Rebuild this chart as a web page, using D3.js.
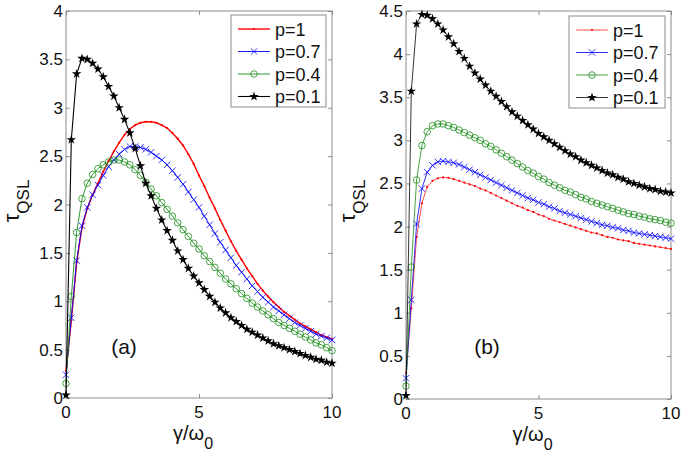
<!DOCTYPE html>
<html><head><meta charset="utf-8">
<script src="https://cdn.jsdelivr.net/npm/d3@7"></script>
<style>
body{margin:0;background:#fff}
svg{display:block}
text{font-family:"Liberation Sans",Arial,Helvetica,sans-serif;fill:#111}
</style>
</head><body>
<svg id="chart" width="685" height="458"></svg>
<script>
// ---- data ----
const gamma = [0,0.2,0.4,0.6,0.8,1,1.2,1.4,1.6,1.8,2,2.2,2.4,2.6,2.8,3,3.2,3.4,3.6,3.8,4,4.2,4.4,4.6,4.8,5,5.2,5.4,5.6,5.8,6,6.2,6.4,6.6,6.8,7,7.2,7.4,7.6,7.8,8,8.2,8.4,8.6,8.8,9,9.2,9.4,9.6,9.8,10];

const seriesNames = ["p=1","p=0.7","p=0.4","p=0.1"];

const panelA_p1  = [0.28,0.8,1.4,1.76,1.96,2.1,2.22,2.34,2.45,2.55,2.64,2.72,2.78,2.82,2.845,2.855,2.855,2.845,2.82,2.79,2.74,2.68,2.61,2.52,2.42,2.3,2.19,2.07,1.96,1.84,1.73,1.62,1.52,1.43,1.34,1.26,1.18,1.11,1.05,0.99,0.94,0.89,0.85,0.81,0.77,0.74,0.71,0.68,0.65,0.63,0.61];
const panelA_p07 = [0.24,0.83,1.42,1.78,1.97,2.1,2.2,2.3,2.39,2.46,2.52,2.57,2.6,2.6,2.59,2.57,2.54,2.5,2.46,2.41,2.35,2.28,2.21,2.13,2.05,1.97,1.88,1.79,1.7,1.61,1.53,1.45,1.37,1.3,1.23,1.16,1.1,1.04,0.99,0.94,0.9,0.86,0.82,0.78,0.75,0.72,0.69,0.66,0.64,0.62,0.6];
const panelA_p04 = [0.15,1.05,1.71,2.06,2.22,2.31,2.37,2.41,2.44,2.46,2.46,2.44,2.41,2.36,2.3,2.23,2.16,2.09,2.02,1.95,1.88,1.81,1.74,1.67,1.6,1.54,1.47,1.41,1.35,1.29,1.23,1.18,1.13,1.08,1.03,0.98,0.94,0.9,0.86,0.82,0.78,0.75,0.72,0.69,0.66,0.63,0.6,0.57,0.55,0.52,0.49];
const panelA_p01 = [0.03,2.67,3.35,3.51,3.5,3.46,3.4,3.32,3.22,3.12,3.0,2.88,2.74,2.58,2.4,2.22,2.09,1.96,1.84,1.73,1.63,1.52,1.43,1.34,1.26,1.19,1.12,1.05,0.99,0.93,0.88,0.83,0.79,0.75,0.71,0.68,0.65,0.62,0.59,0.56,0.54,0.52,0.5,0.48,0.46,0.44,0.42,0.4,0.39,0.37,0.36];

const panelB_p1  = [0.3,1.05,1.88,2.27,2.46,2.53,2.56,2.57,2.565,2.55,2.53,2.51,2.49,2.47,2.44,2.42,2.39,2.36,2.33,2.3,2.27,2.24,2.22,2.19,2.17,2.14,2.12,2.09,2.07,2.05,2.03,2.01,1.99,1.97,1.95,1.93,1.92,1.9,1.88,1.87,1.85,1.84,1.83,1.81,1.8,1.79,1.78,1.77,1.76,1.75,1.74];
const panelB_p07 = [0.24,1.15,2.03,2.44,2.63,2.71,2.75,2.76,2.75,2.74,2.72,2.69,2.66,2.63,2.6,2.57,2.54,2.51,2.48,2.45,2.42,2.39,2.36,2.33,2.31,2.28,2.26,2.23,2.21,2.18,2.16,2.14,2.12,2.1,2.08,2.06,2.04,2.02,2.01,1.99,1.98,1.96,1.95,1.93,1.92,1.91,1.9,1.89,1.88,1.87,1.86];
const panelB_p04 = [0.15,1.53,2.54,2.94,3.1,3.17,3.19,3.19,3.17,3.15,3.12,3.09,3.06,3.03,3.0,2.96,2.93,2.89,2.85,2.81,2.77,2.73,2.69,2.65,2.62,2.58,2.55,2.51,2.48,2.45,2.42,2.4,2.37,2.34,2.32,2.29,2.27,2.25,2.23,2.21,2.19,2.17,2.15,2.14,2.12,2.11,2.09,2.08,2.07,2.05,2.04];
const panelB_p01 = [0.04,3.57,4.35,4.46,4.45,4.41,4.35,4.28,4.2,4.12,4.03,3.95,3.86,3.78,3.71,3.64,3.57,3.51,3.45,3.39,3.33,3.28,3.23,3.18,3.13,3.08,3.04,3.0,2.96,2.92,2.88,2.84,2.81,2.77,2.74,2.71,2.68,2.65,2.62,2.6,2.57,2.55,2.52,2.5,2.48,2.46,2.44,2.43,2.41,2.4,2.39];

const xTicks = [0,5,10];
const panelA_yTicks = [0,0.5,1,1.5,2,2.5,3,3.5,4];
const panelB_yTicks = [0,0.5,1,1.5,2,2.5,3,3.5,4,4.5];
const panelLabels = ["(a)","(b)"];

// ---- drawing ----
const svg = d3.select("#chart");
const colors = ["#ff0000","#0000ff","#1a8c1a","#000000"];
const markers = ["dot","x","circle","star"];
const starPath = d3.symbol(d3.symbolStar, 28)();

function drawMarker(g, type, cx, cy, color, dotR) {
  if (type === "dot") {
    g.append("circle").attr("cx", cx).attr("cy", cy).attr("r", dotR).attr("fill", color);
  } else if (type === "x") {
    const s = 3.2;
    g.append("path").attr("d", `M${cx-s},${cy-s}L${cx+s},${cy+s}M${cx-s},${cy+s}L${cx+s},${cy-s}`)
      .attr("stroke", color).attr("stroke-width", 0.8).attr("fill", "none");
  } else if (type === "circle") {
    g.append("circle").attr("cx", cx).attr("cy", cy).attr("r", 3.3)
      .attr("fill", "none").attr("stroke", color).attr("stroke-width", 0.8);
  } else {
    g.append("path").attr("d", starPath).attr("transform", `translate(${cx},${cy})`).attr("fill", color);
  }
}

function drawPanel(cfg) {
  const x = d3.scaleLinear().domain([0, 10]).range([cfg.left, cfg.right]);
  const y = d3.scaleLinear().domain([0, cfg.yMax]).range([cfg.bottom, cfg.top]);
  const g = svg.append("g");
  const axisColor = "#8c8c8c";

  // box
  g.append("rect").attr("x", cfg.left).attr("y", cfg.top)
    .attr("width", cfg.right - cfg.left).attr("height", cfg.bottom - cfg.top)
    .attr("fill", "none").attr("stroke", axisColor).attr("stroke-width", 1);

  // axes with inward ticks on all four sides
  const tl = 4;
  const clean = a => { a.select(".domain").remove(); a.selectAll("line").attr("stroke", axisColor); };
  g.append("g").attr("transform", `translate(0,${cfg.bottom})`)
    .call(d3.axisBottom(x).tickValues(xTicks).tickSizeInner(-tl).tickSizeOuter(0).tickFormat("")).call(clean);
  g.append("g").attr("transform", `translate(0,${cfg.top})`)
    .call(d3.axisTop(x).tickValues(xTicks).tickSizeInner(-tl).tickSizeOuter(0).tickFormat("")).call(clean);
  g.append("g").attr("transform", `translate(${cfg.left},0)`)
    .call(d3.axisLeft(y).tickValues(cfg.yTicks).tickSizeInner(-tl).tickSizeOuter(0).tickFormat("")).call(clean);
  g.append("g").attr("transform", `translate(${cfg.right},0)`)
    .call(d3.axisRight(y).tickValues(cfg.yTicks).tickSizeInner(-tl).tickSizeOuter(0).tickFormat("")).call(clean);

  // tick labels
  g.selectAll(".xl").data(xTicks).enter().append("text")
    .attr("x", d => x(d)).attr("y", cfg.bottom + 20).attr("text-anchor", "middle")
    .attr("font-size", 17).text(d => d);
  g.selectAll(".yl").data(cfg.yTicks).enter().append("text")
    .attr("x", cfg.left - 3).attr("y", d => y(d) + 6).attr("text-anchor", "end")
    .attr("font-size", 17).text(d => d);

  // x label
  const xl = g.append("text").attr("x", (cfg.left + cfg.right) / 2 - 6).attr("y", cfg.bottom + 42)
    .attr("text-anchor", "middle").attr("font-size", 20);
  xl.append("tspan").text("γ/ω");
  xl.append("tspan").attr("dy", 9).attr("font-size", 16).text("0");

  // y label
  const yl = g.append("text").attr("transform", `translate(${cfg.yLabelX},${cfg.yLabelY}) rotate(-90)`)
    .attr("text-anchor", "middle").attr("font-size", 22);
  yl.append("tspan").text("τ");
  yl.append("tspan").attr("dy", 10).attr("font-size", 17).text("QSL");

  // panel label
  g.append("text").attr("x", cfg.labelX).attr("y", 354).attr("text-anchor", "middle")
    .attr("font-size", 21).text(cfg.label);

  // series
  const line = d3.line().x((d, i) => x(gamma[i])).y(d => y(d));
  cfg.series.forEach((vals, k) => {
    g.append("path").datum(vals).attr("d", line).attr("fill", "none")
      .attr("stroke", colors[k]).attr("stroke-width", cfg.lineW[k]);
    const mg = g.append("g");
    vals.forEach((v, i) => drawMarker(mg, markers[k], x(gamma[i]), y(v), colors[k], cfg.dotR));
  });

  // legend
  const lg = g.append("g");
  lg.append("rect").attr("x", cfg.legX).attr("y", cfg.legY).attr("width", cfg.legW).attr("height", 92)
    .attr("fill", "#fff").attr("stroke", axisColor).attr("stroke-width", 1);
  seriesNames.forEach((nm, k) => {
    const cy = cfg.legY + 14 + k * 22.5;
    const x0 = cfg.legX + 7, x1 = cfg.legX + 39;
    lg.append("line").attr("x1", x0).attr("x2", x1).attr("y1", cy).attr("y2", cy)
      .attr("stroke", colors[k]).attr("stroke-width", cfg.lineW[k]);
    drawMarker(lg, markers[k], (x0 + x1) / 2, cy, colors[k], cfg.dotR);
    lg.append("text").attr("x", x1 + 5).attr("y", cy + 6.5).attr("font-size", 18).text(nm);
  });
}

drawPanel({
  left: 66, right: 332, top: 11, bottom: 398, yMax: 4, yTicks: panelA_yTicks,
  series: [panelA_p1, panelA_p07, panelA_p04, panelA_p01],
  lineW: [1.4, 0.9, 0.9, 1.1], dotR: 1.1,
  yLabelX: 19, yLabelY: 201, label: panelLabels[0], labelX: 124,
  legX: 231, legY: 15, legW: 95
});
drawPanel({
  left: 406, right: 671, top: 11, bottom: 399, yMax: 4.5, yTicks: panelB_yTicks,
  series: [panelB_p1, panelB_p07, panelB_p04, panelB_p01],
  lineW: [0.7, 0.8, 0.8, 0.8], dotR: 1.1,
  yLabelX: 355, yLabelY: 201, label: panelLabels[1], labelX: 487,
  legX: 569, legY: 16, legW: 96
});
</script>
</body></html>
